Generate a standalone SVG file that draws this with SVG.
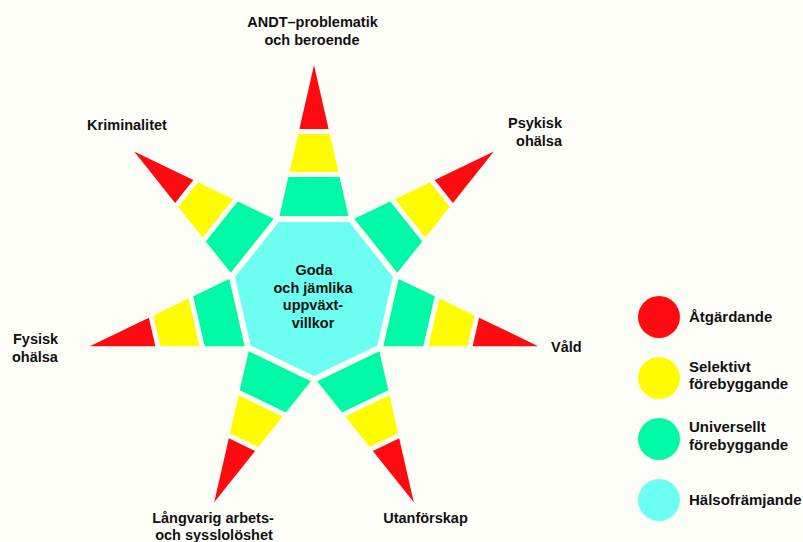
<svg xmlns="http://www.w3.org/2000/svg" xmlns:xlink="http://www.w3.org/1999/xlink" width="803" height="542" viewBox="0 0 803 542">
<style>
.r{fill:#FF0A10}
.y{fill:#FFFB00}
.g{fill:#00F9A6}
.c{fill:#6CFEF0}
text{font-family:"Liberation Sans",Arial,sans-serif;font-weight:bold;font-size:14.5px;fill:#111}
.lg{font-size:15px}
</style>
<defs>
<g id="spike">
<polygon class="g" points="-34.5,-79 34.5,-79 25.59,-118 -25.59,-118"/>
<polygon class="y" points="-24.45,-123 24.45,-123 15.77,-161 -15.77,-161"/>
<polygon class="r" points="-14.62,-166 14.62,-166 0,-230"/>
</g>
</defs>
<rect width="803" height="542" fill="#FEFEF9"/>
<g id="center">
<polygon class="c" transform="translate(314,295)" points="35.15,-72.98 78.97,-18.02 63.33,50.5 0,81 -63.33,50.5 -78.97,-18.02 -35.15,-72.98"/>
<text x="314" y="275" text-anchor="middle">Goda</text>
<text x="313" y="292.5" text-anchor="middle">och jämlika</text>
<text x="313" y="310" text-anchor="middle">uppväxt-</text>
<text x="313" y="327.5" text-anchor="middle">villkor</text>
</g>
<g id="andt">
<use xlink:href="#spike" transform="translate(314,295) rotate(0)"/>
<text x="312.5" y="27" text-anchor="middle">ANDT–problematik</text>
<text x="312" y="45" text-anchor="middle">och beroende</text>
</g>
<g id="psykisk">
<use xlink:href="#spike" transform="translate(314,295) rotate(51.43)"/>
<text x="562" y="128" text-anchor="end">Psykisk</text>
<text x="562" y="146" text-anchor="end">ohälsa</text>
</g>
<g id="vald">
<use xlink:href="#spike" transform="translate(314,295) rotate(102.86)"/>
<text x="551" y="352">Våld</text>
</g>
<g id="utanforskap">
<use xlink:href="#spike" transform="translate(314,295) rotate(154.29)"/>
<text x="425.5" y="523" text-anchor="middle">Utanförskap</text>
</g>
<g id="langvarig">
<use xlink:href="#spike" transform="translate(314,295) rotate(205.71)"/>
<text x="213" y="523" text-anchor="middle">Långvarig arbets-</text>
<text x="214" y="540" text-anchor="middle">och sysslolöshet</text>
</g>
<g id="fysisk">
<use xlink:href="#spike" transform="translate(314,295) rotate(257.14)"/>
<text x="13" y="344">Fysisk</text>
<text x="12" y="362">ohälsa</text>
</g>
<g id="kriminalitet">
<use xlink:href="#spike" transform="translate(314,295) rotate(308.57)"/>
<text x="127" y="130" text-anchor="middle">Kriminalitet</text>
</g>
<g id="legend">
<circle class="r" cx="659" cy="317" r="21"/>
<text class="lg" x="689" y="322">Åtgärdande</text>
<circle class="y" cx="659" cy="378" r="21"/>
<text class="lg" x="689" y="372">Selektivt</text>
<text class="lg" x="689" y="389">förebyggande</text>
<circle class="g" cx="659" cy="439" r="21"/>
<text class="lg" x="689" y="432">Universellt</text>
<text class="lg" x="689" y="450">förebyggande</text>
<circle class="c" cx="659" cy="500" r="21"/>
<text class="lg" x="689" y="505">Hälsofrämjande</text>
</g>
</svg>
